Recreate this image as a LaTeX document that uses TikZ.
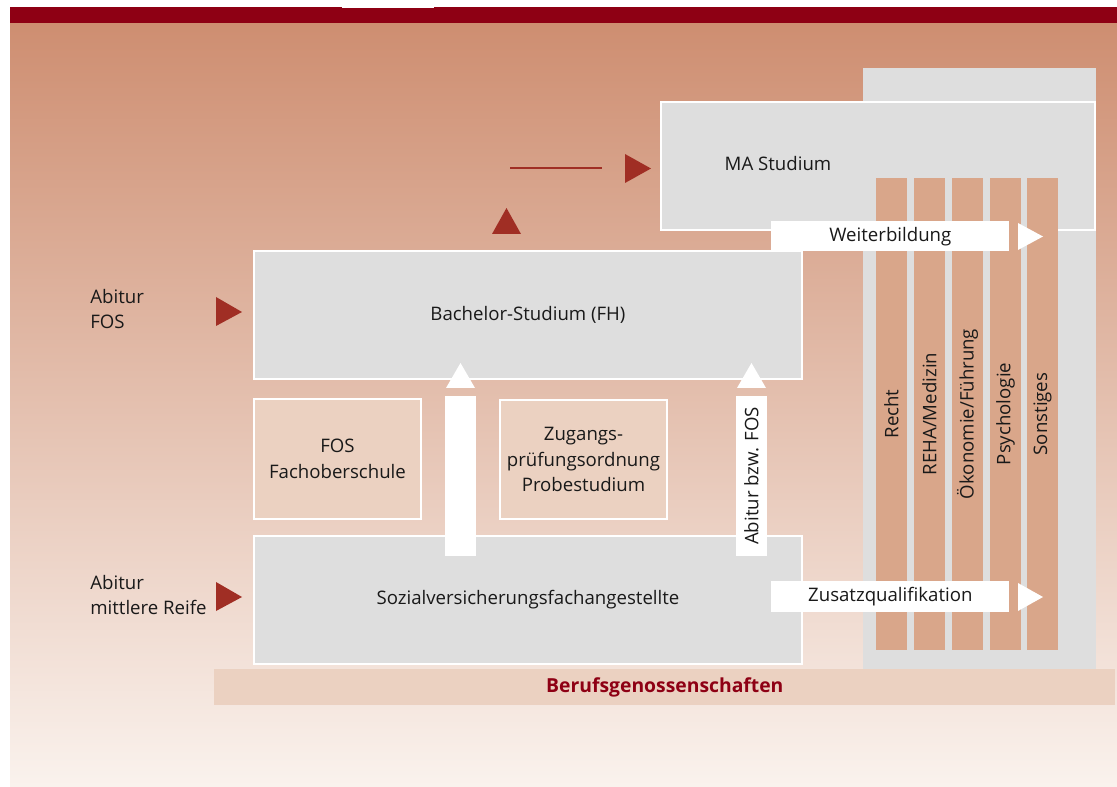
\documentclass[tikz,border=0pt]{standalone}
\usepackage{fontspec}
\setmainfont{Open Sans}
\definecolor{bandred}{RGB}{142,0,20}
\definecolor{markred}{RGB}{160,46,36}
\definecolor{boxgray}{RGB}{222,222,222}
\definecolor{stripetone}{RGB}{217,166,138}
\definecolor{paletone}{RGB}{235,209,193}
\definecolor{topshade}{RGB}{206,142,113}
\definecolor{midshade}{RGB}{226,186,162}
\definecolor{botshade}{RGB}{250,242,237}
\newcommand\pxl{0.02cm}
\tikzset{
  lbl/.style={font=\fontsize{10.6}{14.6}\selectfont, text=black!90, align=center, inner sep=0pt},
  graybox/.style={lbl, draw=white, line width=1.1pt, fill=boxgray, anchor=north west},
  palebox/.style={graybox, fill=paletone},
  stripebar/.style={lbl, fill=stripetone, rotate=90, minimum width=472*\pxl, minimum height=31*\pxl},
  whitebar/.style={lbl, fill=white, anchor=north west},
}
\begin{document}
\begin{tikzpicture}[x=\pxl,y=-\pxl]
   \useasboundingbox (0,0) rectangle (1117,787);
   \shade [top color=topshade, middle color=midshade, bottom color=botshade] (10,23) rectangle (1117,786);
   \fill [bandred] (10,7) rectangle (1117,23);
   \fill [white] (342,7) rectangle (434,8.3);
   \fill [boxgray] (863,68) rectangle (1096,669);
   \node [graybox, minimum width=434*\pxl, minimum height=128*\pxl] (ma) at (660,101) {};
   \node [lbl] (matext) at (778,164) {MA Studium};
   \foreach \sx/\txt [count=\i] in {891.5/Recht, 929.5/{REHA/Medizin}, 967.5/{Ökonomie/Führung}, 1005.5/Psychologie, 1042.5/Sonstiges}
     \node [stripebar] (s\i) at (\sx,414) {\txt};
   \node [whitebar, minimum width=238*\pxl, minimum height=30*\pxl] (weiter) at (771,221) {Weiterbildung};
   \fill [white] (1018,223) -- (1043,236.5) -- (1018,250) -- cycle;
   \node [graybox, minimum width=548*\pxl, minimum height=128*\pxl] (bachelor) at (253,250) {Bachelor-Studium (FH)};
   \node [palebox, minimum width=167*\pxl, minimum height=120*\pxl] (fos) at (253,398) {FOS\\Fachoberschule};
   \node [palebox, minimum width=167*\pxl, minimum height=119*\pxl] (zugang) at (499,399) {Zugangs-\\prüfungsordnung\\Probestudium};
   \node [graybox, minimum width=548*\pxl, minimum height=128*\pxl] (sozial) at (253,535) {Sozialversicherungsfachangestellte};
   \node [whitebar, minimum width=31*\pxl, minimum height=160*\pxl] (shaft1) at (445,396) {};
   \fill [white] (446,388) -- (460.5,363) -- (475,388) -- cycle;
   \node [whitebar, anchor=center, rotate=90, minimum width=160*\pxl, minimum height=31*\pxl] (shaft2) at (751.5,476) {Abitur bzw. FOS};
   \fill [white] (737,388) -- (751.5,363) -- (766,388) -- cycle;
   \node [whitebar, minimum width=238*\pxl, minimum height=31*\pxl] (zusatz) at (771,581) {Zusatzqualifikation};
   \fill [white] (1018,583) -- (1043,597) -- (1018,611) -- cycle;
   \node [lbl, fill=paletone, anchor=north west, minimum width=901*\pxl, minimum height=36*\pxl, text=bandred, font=\fontsize{11}{12}\selectfont\bfseries] (bg) at (214,669) {Berufsgenossenschaften};
   \node [lbl, align=left, anchor=west] (abifos) at (90,309) {Abitur\\FOS};
   \node [lbl, align=left, anchor=west] (abireife) at (90,595) {Abitur\\mittlere Reife};
   \fill [markred] (216,297) -- (242,312) -- (216,326) -- cycle;
   \fill [markred] (216,582) -- (242,597) -- (216,611) -- cycle;
   \fill [markred] (492,234) -- (506.5,208) -- (521,234) -- cycle;
   \fill [markred] (625,154) -- (651,168.5) -- (625,183) -- cycle;
   \draw [markred, line width=2*\pxl] (510,168.5) -- (602,168.5);
\end{tikzpicture}
\end{document}
